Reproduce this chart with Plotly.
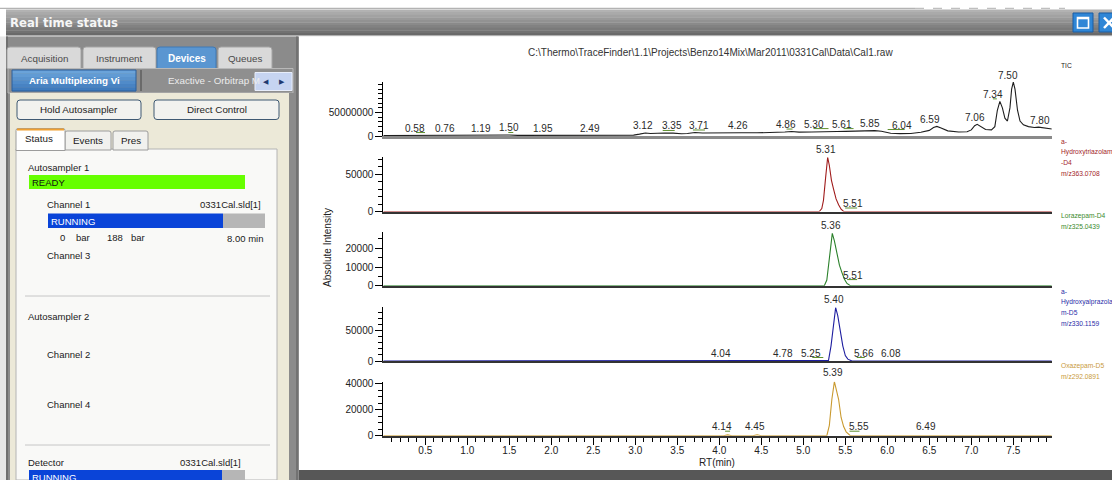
import plotly.graph_objects as go

W, H = 1112, 480

# ---------------- data ----------------
file_path = "C:\\Thermo\\TraceFinder\\1.1\\Projects\\Benzo14Mix\\Mar2011\\0331Cal\\Data\\Cal1.raw"

tic_rt = [0.00, 0.20, 0.40, 0.52, 0.58, 0.66, 0.76, 0.90, 1.05, 1.19, 1.32, 1.50, 1.60, 1.80, 1.95,
          2.10, 2.30, 2.49, 2.65, 2.85, 2.98, 3.05, 3.12, 3.18, 3.25, 3.35, 3.45, 3.55, 3.62, 3.71,
          3.80, 3.95, 4.10, 4.26, 4.45, 4.65, 4.78, 4.86, 4.95, 5.10, 5.20, 5.30, 5.40, 5.50, 5.61,
          5.70, 5.78, 5.85, 5.93, 6.04, 6.15, 6.28, 6.40, 6.50, 6.55, 6.59, 6.64, 6.72, 6.85, 6.95,
          7.00, 7.04, 7.07, 7.11, 7.17, 7.24, 7.28, 7.31, 7.34, 7.37, 7.40, 7.43, 7.46, 7.48, 7.50,
          7.52, 7.55, 7.58, 7.62, 7.68, 7.75, 7.80, 7.85, 7.90, 7.96]
tic_intensity_millions = [1.0, 1.2, 1.0, 1.3, 2.0, 1.4, 1.6, 1.2, 1.3, 1.6, 1.2, 2.2, 1.3, 1.2, 1.6,
                          1.2, 1.3, 1.6, 1.2, 1.3, 1.8, 4.0, 6.5, 5.2, 6.0, 6.5, 6.2, 4.8, 5.5, 7.5,
                          6.3, 7.0, 6.5, 7.0, 6.8, 7.2, 8.5, 9.5, 8.2, 8.5, 9.0, 10.5, 9.5, 9.8, 10.5,
                          9.8, 11.0, 11.5, 10.0, 6.0, 5.0, 5.5, 8.0, 12.0, 18.0, 20.5, 17.0, 11.0, 8.5, 9.0,
                          13.0, 22.0, 25.0, 20.0, 14.0, 13.0, 20.0, 55.0, 74.0, 60.0, 38.0, 32.0, 60.0, 100.0, 115.0,
                          100.0, 55.0, 32.0, 24.0, 20.0, 18.0, 19.0, 18.0, 16.0, 15.0]
tic_peak_labels = ["0.58", "0.76", "1.19", "1.50", "1.95", "2.49", "3.12", "3.35", "3.71", "4.26",
                   "4.86", "5.30", "5.61", "5.85", "6.04", "6.59", "7.06", "7.34", "7.50", "7.80"]
tic_peak_heights_millions = [2.0, 1.6, 1.6, 2.2, 1.6, 1.6, 6.5, 6.5, 7.5, 7.0,
                             9.5, 10.5, 10.5, 11.5, 8.5, 20.5, 24.0, 74.0, 115.0, 19.0]

red_rt = [0.00, 5.19, 5.22, 5.24, 5.265, 5.29, 5.31, 5.335, 5.36, 5.39, 5.42, 5.45, 5.48, 7.96]
red_intensity = [0, 0, 4000, 15000, 45000, 73000, 62000, 42000, 30000, 17000, 9000, 3000, 0, 0]
red_peak_labels = ["5.31", "5.51"]
red_peak_heights = [73000, 0]

green_rt = [0.00, 5.25, 5.28, 5.30, 5.32, 5.345, 5.37, 5.40, 5.43, 5.46, 5.49, 5.52, 5.56, 7.96]
green_intensity = [0, 0, 3000, 10000, 20000, 28000, 24000, 18000, 11000, 7000, 3500, 1200, 0, 0]
green_peak_labels = ["5.36", "5.51"]
green_peak_heights = [28000, 1400]

blue_rt = [0.00, 5.20, 5.24, 5.27, 5.30, 5.33, 5.36, 5.385, 5.41, 5.44, 5.47, 5.50, 5.53, 5.58,
           5.62, 5.66, 5.70, 7.96]
blue_intensity = [0, 0, 800, 0, 1000, 25000, 60000, 88000, 75000, 52000, 25000, 9000, 3000, 0,
                  0, 800, 0, 0]
blue_peak_labels = ["4.04", "4.78", "5.25", "5.40", "5.66", "6.08"]
blue_peak_heights = [0, 0, 0, 88000, 0, 0]

orange_rt = [0.00, 4.05, 4.10, 4.15, 4.40, 4.45, 4.50, 5.28, 5.31, 5.34, 5.37, 5.39, 5.42, 5.45,
             5.48, 5.51, 5.56, 7.96]
orange_intensity = [0, 0, 600, 0, 0, 700, 0, 0, 8000, 28000, 41500, 36000, 28000, 14000,
                    7000, 3000, 0, 0]
orange_peak_labels = ["4.14", "4.45", "5.39", "5.55", "6.49"]
orange_peak_heights = [0, 0, 41500, 0, 0]

legend_lines = [
    ["TIC"],
    ["a-", "Hydroxytriazolam", "-D4", "m/z363.0708"],
    ["Lorazepam-D4", "m/z325.0439"],
    ["a-", "Hydroxyalprazola", "m-D5", "m/z330.1159"],
    ["Oxazepam-D5", "m/z292.0891"],
]

x_tick_values = [0.5, 1.0, 1.5, 2.0, 2.5, 3.0, 3.5, 4.0, 4.5, 5.0, 5.5, 6.0, 6.5, 7.0, 7.5]

# ---------------- styling ----------------
CHART_FONT = "Arial, Liberation Sans, sans-serif"
UI_FONT = "Liberation Sans, Arial, sans-serif"

panels = [
    dict(x=tic_rt, y=[v * 1e6 for v in tic_intensity_millions], color="#1e1e1e",
         top=81.7, bottom=136.0, ymax=1.16e8, major=[0, 5e7], major_text=["0", "50000000"], minor=1e7,
         labels=tic_peak_labels, heights=[v * 1e6 for v in tic_peak_heights_millions],
         dx=[-17, -2, -2, 0, -4, -2, -2, 7, 4, -3, -6, -15, -13, -5, 11, -7, -1, -7, -5, 1],
         axis_color="#8a8a8a", axis_width=2.5, legend_color="#222222", yshift=7),
    dict(x=red_rt, y=red_intensity, color="#a01c1c",
         top=157.3, bottom=211.5, ymax=73000, major=[0, 50000], major_text=["0", "50000"], minor=10000,
         labels=red_peak_labels, heights=red_peak_heights, dx=[-3, 7],
         axis_color="#333333", axis_width=2, legend_color="#a3262a", yshift=8),
    dict(x=green_rt, y=green_intensity, color="#2a802a",
         top=231.7, bottom=285.7, ymax=28900, major=[0, 10000, 20000], major_text=["0", "10000", "20000"],
         minor=5000, labels=green_peak_labels, heights=green_peak_heights, dx=[-3, 7],
         axis_color="#333333", axis_width=2, legend_color="#3a8a2c", yshift=8),
    dict(x=blue_rt, y=blue_intensity, color="#1e1ea0",
         top=307.3, bottom=361.0, ymax=88600, major=[0, 50000], major_text=["0", "50000"], minor=10000,
         labels=blue_peak_labels, heights=blue_peak_heights, dx=[-2, -2, -13, -3, 5, -3],
         axis_color="#333333", axis_width=2, legend_color="#2a2ca8", yshift=8),
    dict(x=orange_rt, y=orange_intensity, color="#c99a30",
         top=381.7, bottom=435.7, ymax=41500, major=[0, 20000, 40000], major_text=["0", "20000", "40000"],
         minor=5000, labels=orange_peak_labels, heights=orange_peak_heights, dx=[-9, -2, -3, 9, -2],
         axis_color="#333333", axis_width=2, legend_color="#c99a3c", yshift=9),
]

# small integration-baseline marks drawn under some peak labels:
# (panel index, label, left offset px, right offset px) relative to the label's RT
peak_marks = [
    (0, "0.58", -16, -7), (0, "1.50", -1, 4), (0, "3.35", -2, 10), (0, "3.71", -2, 10),
    (0, "4.86", -5, 1), (0, "5.30", -15, 0), (0, "5.61", -11, -1), (0, "6.04", -3, 14),
    (0, "7.34", -7, -3),
    (1, "5.51", -1, 11), (2, "5.51", 1, 11),
    (3, "5.25", -12, -1), (3, "5.66", -2, 6),
    (4, "4.14", -6, -1), (4, "5.55", 0, 10),
]
MARK_COLOR = "#5f8f2e"

X_LEFT, X_RIGHT = 383.3, 1051.7
X_RANGE = [0, 7.957]


def px(v):
    return v / W


def py(v):
    return 1 - v / H


shapes = []
annotations = []


def rect(x0, y0, x1, y1, fill, lc=None, lw=0, layer="below"):
    shapes.append(dict(type="rect", xref="paper", yref="paper", x0=px(x0), x1=px(x1),
                       y0=py(y1), y1=py(y0), fillcolor=fill,
                       line=dict(color=lc or fill, width=lw), layer=layer))


def hexmix(c1, c2, t):
    a = [int(c1[i:i + 2], 16) for i in (1, 3, 5)]
    b = [int(c2[i:i + 2], 16) for i in (1, 3, 5)]
    return "#" + "".join("%02x" % round(a[k] + (b[k] - a[k]) * t) for k in range(3))


def vgrad(x0, y0, x1, y1, ctop, cbot, n=8):
    h = (y1 - y0) / n
    for i in range(n):
        rect(x0, y0 + i * h, x1, y0 + (i + 1) * h + 0.3, hexmix(ctop, cbot, i / max(n - 1, 1)))


def rrect(x0, y0, x1, y1, r, fill, lc, lw=1, top_only=False, layer="below"):
    X, Y = px, py
    if top_only:
        p = (f"M{X(x0)},{Y(y1)} L{X(x0)},{Y(y0 + r)} Q{X(x0)},{Y(y0)} {X(x0 + r)},{Y(y0)} "
             f"L{X(x1 - r)},{Y(y0)} Q{X(x1)},{Y(y0)} {X(x1)},{Y(y0 + r)} L{X(x1)},{Y(y1)} Z")
    else:
        p = (f"M{X(x0)},{Y(y1 - r)} L{X(x0)},{Y(y0 + r)} Q{X(x0)},{Y(y0)} {X(x0 + r)},{Y(y0)} "
             f"L{X(x1 - r)},{Y(y0)} Q{X(x1)},{Y(y0)} {X(x1)},{Y(y0 + r)} L{X(x1)},{Y(y1 - r)} "
             f"Q{X(x1)},{Y(y1)} {X(x1 - r)},{Y(y1)} L{X(x0 + r)},{Y(y1)} Q{X(x0)},{Y(y1)} {X(x0)},{Y(y1 - r)} Z")
    shapes.append(dict(type="path", xref="paper", yref="paper", path=p, fillcolor=fill,
                       line=dict(color=lc, width=lw), layer=layer))


def seg(x0, y0, x1, y1, color, w=1, dash=None, layer="below"):
    d = dict(color=color, width=w)
    if dash:
        d["dash"] = dash
    shapes.append(dict(type="line", xref="paper", yref="paper", x0=px(x0), x1=px(x1),
                       y0=py(y0), y1=py(y1), line=d, layer=layer))


def text(x, y, s, size=9.5, color="#1a1a1a", anchor="left", bold=False, family=UI_FONT, angle=0):
    annotations.append(dict(xref="paper", yref="paper", x=px(x), y=py(y),
                            text=f"<b>{s}</b>" if bold else s, showarrow=False,
                            xanchor=anchor, yanchor="middle", textangle=angle, borderpad=0,
                            font=dict(size=size, color=color, family=family)))


# ---------------- application chrome ----------------
seg(0, 8.3, 915, 8.3, "#a0a0a0", 1)
seg(915, 8.3, 1065, 8.3, "#b0b0b0", 1, dash="dash")
vgrad(6, 9.5, W, 35.5, "#b2b2b2", "#6a6a6a", 10)
rect(6, 35.5, W, 36.5, "#d0d0d0")
text(9, 22.5, "Real time status", size=11.7, color="#f6f6f6", bold=True, family="DejaVu Sans, sans-serif")

# window buttons
rect(1073, 13, 1093, 32, "#2f86d6", "#1b5da3", 1)
rect(1077.5, 17.5, 1088.5, 28, "rgba(0,0,0,0)", "#ffffff", 1.6)
seg(1077.5, 18.3, 1088.5, 18.3, "#ffffff", 2)
rect(1099, 13, 1119, 32, "#2f86d6", "#1b5da3", 1)
seg(1104, 17.5, 1114, 28, "#ffffff", 2.5)
seg(1104, 28, 1114, 17.5, "#ffffff", 2.5)

# left frame
rect(0, 36.5, 6, H, "#e6e6e6")
rect(6, 36.5, 299, H, "#8b8b8b")
rect(6, 36.5, 8, H, "#6f6f6f")

# top tabs
tabs = [("Acquisition", 7, 81), ("Instrument", 83, 156), ("Devices", 157, 216), ("Queues", 218, 272)]
for name, a, b in tabs:
    if name == "Devices":
        rrect(a, 47, b, 68.5, 3, "#5a96d1", "#3f78b4", 1, top_only=True)
        text((a + b) / 2, 58, name, size=10, color="#ffffff", anchor="center", bold=True)
    else:
        rrect(a, 47, b, 68.5, 3, "#d9d9d9", "#a5a5a5", 1, top_only=True)
        text((a + b) / 2, 58, name, size=9.8, color="#4a4a4a", anchor="center")

# device selector row
rect(8, 68.5, 293, 93, "#8f8f8f", "#b8b8b8", 1)
vgrad(12, 70, 136, 91, "#6aa3da", "#3f7bbd", 6)
rect(12, 70, 136, 91, "rgba(0,0,0,0)", "#2d5f9a", 1)
text(74, 80.5, "Aria Multiplexing Vi", size=9.8, color="#ffffff", anchor="center", bold=True)
seg(141, 70, 141, 91, "#6a6a6a", 2)
text(167, 81, "Exactive - Orbitrap M", size=9.8, color="#ececec")
rect(255, 72.5, 292, 90.5, "#c6d4f1", "#e8eefb", 1)
text(266, 81.5, "◀", size=6.5, color="#1f3a70", anchor="center")
text(282, 81.5, "▶", size=6.5, color="#1f3a70", anchor="center")

# beige content
rect(10, 93, 289, H, "#ece9d8")
rect(289, 93, 299, H, "#8b8b8b")
rect(296, 36.5, 298, H, "#727272")

# buttons
for label, a, b in [("Hold Autosampler", 17, 141), ("Direct Control", 154, 279)]:
    rrect(a, 100, b, 119.5, 3, "#f2f2ef", "#3f5973", 1)
    text((a + b) / 2, 110, label, size=9.8, color="#1e1e1e", anchor="center")

# sub tabs
rect(16, 149, 277, H, "#f9f9f7", "#b4b4b4", 1)
rrect(65, 131, 111, 150, 2, "#f1f1ee", "#9c9c9c", 1, top_only=True)
rrect(113, 131, 148, 150, 2, "#f1f1ee", "#9c9c9c", 1, top_only=True)
rrect(16, 128.5, 65, 150.5, 2, "#ffffff", "#9c9c9c", 1, top_only=True)
rect(17, 128.5, 64, 130.5, "#f0a030")
text(38.5, 138.5, "Status", size=9.8, anchor="center")
text(88, 140.5, "Events", size=9.8, anchor="center")
text(131, 140.5, "Pres", size=9.8, anchor="center")

# status content
text(27, 167, "Autosampler 1")
rect(29, 175, 245, 189, "#66ff00")
text(31, 182, "READY", size=9.5, color="#111111")
text(46, 204, "Channel 1")
text(262, 204, "0331Cal.sld[1]", anchor="right")
rect(48, 213.5, 223, 228, "#0a44d8")
rect(223, 213.5, 265, 228, "#b6b6b6")
text(50, 221, "RUNNING", color="#ffffff")
text(59, 237, "0")
text(75, 237, "bar")
text(106, 237.5, "188")
text(130, 237, "bar")
text(264, 238, "8.00 min", anchor="right")
text(46, 255, "Channel 3")
seg(25, 296, 270, 296, "#c6c6c6", 1)
text(27, 316, "Autosampler 2")
text(46, 354, "Channel 2")
text(46, 404, "Channel 4")
seg(25, 445, 270, 445, "#c6c6c6", 1)
text(27, 462, "Detector")
text(242, 462, "0331Cal.sld[1]", anchor="right")
rect(29, 470, 222, 482, "#0a44d8")
rect(222, 470, 245, 482, "#b6b6b6")
text(31, 477.5, "RUNNING", color="#ffffff")

# chart window
rect(299, 36.5, W, 470, "#ffffff")
rect(299, 470, W, H, "#575757")

# ---------------- chart ----------------
fig = go.Figure()
layout = dict(width=W, height=H, autosize=False,
              margin=dict(l=0, r=0, t=0, b=0, pad=0, autoexpand=False),
              paper_bgcolor="#ffffff", plot_bgcolor="rgba(0,0,0,0)", showlegend=False,
              font=dict(family=CHART_FONT, size=10, color="#222222"))

n = len(panels)
for i, p in enumerate(panels):
    xn = "x" if i == 0 else f"x{i + 1}"
    yn = "y" if i == 0 else f"y{i + 1}"
    fig.add_trace(go.Scatter(x=p["x"], y=p["y"], xaxis=xn, yaxis=yn, mode="lines",
                             line=dict(color=p["color"], width=1.1), hoverinfo="skip"))
    last = i == n - 1
    xa = dict(domain=[px(X_LEFT), px(X_RIGHT)], anchor=yn, range=X_RANGE, showgrid=False,
              zeroline=False, showline=True, linecolor=p["axis_color"], linewidth=p["axis_width"],
              layer="below traces", fixedrange=True, automargin=False)
    if last:
        xa.update(tickmode="array", tickvals=x_tick_values,
                  ticktext=[f"{v:.1f}" for v in x_tick_values],
                  ticks="outside", ticklen=7, tickwidth=1, tickcolor="#000000",
                  tickfont=dict(size=10, color="#222222"), ticklabelstandoff=-3,
                  minor=dict(tickmode="array",
                             tickvals=[round(k * 0.1, 1) for k in range(1, 80) if k % 5 != 0],
                             ticks="outside", ticklen=4, tickwidth=1, tickcolor="#000000"))
    else:
        xa.update(showticklabels=False, ticks="")
    ya = dict(domain=[py(p["bottom"]), py(p["top"])], anchor=xn, range=[0, p["ymax"]],
              showgrid=False, zeroline=False, showline=True, linecolor="#000000", linewidth=1,
              tickmode="array", tickvals=p["major"], ticktext=p["major_text"],
              ticks="outside", ticklen=7, tickwidth=1, tickcolor="#000000",
              tickfont=dict(size=10, color="#222222"), fixedrange=True, automargin=False,
              minor=dict(tickmode="array",
                         tickvals=[k * p["minor"] for k in range(1, int(p["ymax"] // p["minor"]) + 1)
                                   if k * p["minor"] not in p["major"]],
                         ticks="outside", ticklen=4, tickwidth=1, tickcolor="#000000"))
    layout["xaxis" if i == 0 else f"xaxis{i + 1}"] = xa
    layout["yaxis" if i == 0 else f"yaxis{i + 1}"] = ya

    # peak labels
    for lbl, h, dx in zip(p["labels"], p["heights"], p["dx"]):
        annotations.append(dict(x=float(lbl), y=h, xref=xn, yref=yn, text=lbl, showarrow=False,
                                xanchor="center", yanchor="middle", xshift=dx, yshift=p["yshift"],
                                font=dict(size=10, color="#2a2a2a", family=CHART_FONT)))
    # integration marks under labels
    for (pi, lbl, o0, o1) in peak_marks:
        if pi != i:
            continue
        h = p["heights"][p["labels"].index(lbl)]
        yy = p["yshift"] - 4.5
        shapes.append(dict(type="line", xref=xn, yref=yn, xsizemode="pixel", ysizemode="pixel",
                           xanchor=float(lbl), yanchor=h, x0=o0, x1=o1, y0=yy, y1=yy,
                           line=dict(color=MARK_COLOR, width=1), layer="above"))
    # trace legends on the right
    for k, line_txt in enumerate(legend_lines[i]):
        text(1060, p["top"] - 16 + k * 10.8, line_txt, size=6.7, color=p["legend_color"],
             family=CHART_FONT)

text(710, 53, file_path, size=10, color="#333333", anchor="center", family=CHART_FONT)
text(327, 248, "Absolute Intensity", size=10, color="#222222", anchor="center",
     family=CHART_FONT, angle=-90)
text(717, 462.5, "RT(min)", size=10, color="#222222", anchor="center", family=CHART_FONT)

layout["shapes"] = shapes
layout["annotations"] = annotations
fig.update_layout(**layout)

fix_page = (
    "var d=document.documentElement,b=document.body;"
    "d.style.margin='0';d.style.padding='0';d.style.overflow='hidden';d.style.height='480px';"
    "b.style.margin='0';b.style.padding='0';b.style.overflow='hidden';b.style.height='480px';"
    "var g=document.getElementById('{plot_id}');"
    "g.style.position='fixed';g.style.left='0px';g.style.top='0px';"
)
fig.write_html("out.html", config={"displayModeBar": False}, post_script=fix_page)
